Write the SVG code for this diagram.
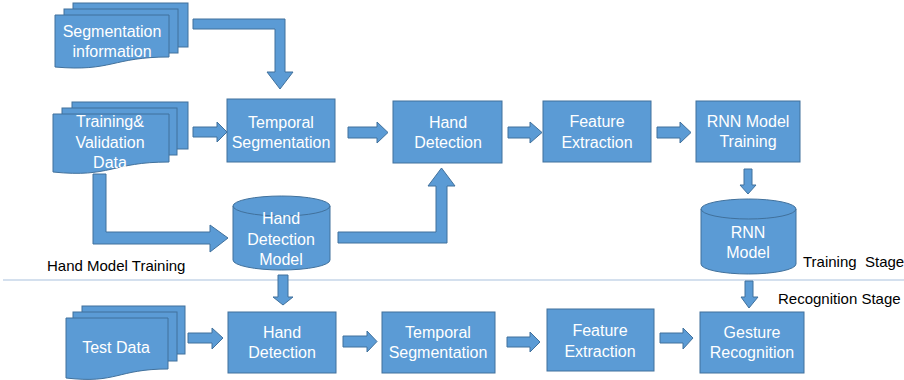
<svg xmlns="http://www.w3.org/2000/svg" width="904" height="380" viewBox="0 0 904 380">
<style>
.s{fill:#5b9bd5;stroke:#41719c;stroke-width:1}
.t{fill:#ffffff;font-family:"Liberation Sans",Arial,sans-serif;font-size:16px;text-anchor:middle}
.l{fill:#000000;font-family:"Liberation Sans",Arial,sans-serif;font-size:15px;white-space:pre}
.a{fill:#5b9bd5;stroke:#41719c;stroke-width:1}
</style>
<rect width="904" height="380" fill="#ffffff"/>
<line x1="3" y1="280" x2="904" y2="280" stroke="#a9c1dd" stroke-width="1"/>
<g id="connectors">
<polygon class="a" points="193,19 285,19 285,72 293,72 280,89 267,72 275,72 275,29 193,29"/>
<polygon class="a" points="193,127 217,127 217,122 227,132 217,142 217,137 193,137"/>
<polygon class="a" points="93,174 106,174 106,232 210,232 210,225 228,238 210,252 210,244 93,244"/>
<polygon class="a" points="338,232 436,232 436,186 428,186 441.5,168 455,186 447,186 447,243 338,243"/>
<polygon class="a" points="348,127 377,127 377,122 388,132.5 377,143 377,138 348,138"/>
<polygon class="a" points="508,127 530,127 530,122 542,132.5 530,143 530,138 508,138"/>
<polygon class="a" points="657,127 680,127 680,122 691,132.5 680,143 680,138 657,138"/>
<polygon class="a" points="744,169 752,169 752,185 756,185 748,194 740,185 744,185"/>
<polygon class="a" points="278,275 288,275 288,297 293,297 283,305 273,297 278,297"/>
<polygon class="a" points="745,281 753,281 753,297 758,297 749,308 741,297 745,297"/>
<polygon class="a" points="188,333 212,333 212,328 223,338 212,349 212,343 188,343"/>
<polygon class="a" points="343,336 367,336 367,331 377,341.5 367,352 367,347 343,347"/>
<polygon class="a" points="507,337 530,337 530,332 540,342 530,352 530,347 507,347"/>
<polygon class="a" points="660,333 683,333 683,328 693,338 683,349 683,343 660,343"/>
</g>
<g id="seg-info">
<rect class="s" x="73" y="3" width="115" height="44"/>
<rect class="s" x="64" y="9" width="114" height="44"/>
<path class="s" d="M55,15 H169 V57 C112,57 112,72 55,67 Z"/>
<text class="t" x="112" y="37">Segmentation</text>
<text class="t" x="112" y="57">information</text>
</g>
<g id="train-data">
<rect class="s" x="72" y="102" width="116" height="47"/>
<rect class="s" x="62" y="108" width="115" height="47"/>
<path class="s" d="M53,114 H169 V162 C111,162 111,178 53,172 Z"/>
<text class="t" x="110" y="127">Training&amp;</text>
<text class="t" x="110" y="148">Validation</text>
<text class="t" x="110" y="168">Data</text>
</g>
<g id="temporal-seg-1">
<rect class="s" x="227" y="99" width="108" height="63"/>
<text class="t" x="281" y="128">Temporal</text>
<text class="t" x="281" y="148">Segmentation</text>
</g>
<g id="hand-det-1">
<rect class="s" x="393" y="101" width="109" height="62"/>
<text class="t" x="448" y="128">Hand</text>
<text class="t" x="448" y="148">Detection</text>
</g>
<g id="feat-ext-1">
<rect class="s" x="543" y="101" width="108" height="61"/>
<text class="t" x="597" y="127">Feature</text>
<text class="t" x="597" y="148">Extraction</text>
</g>
<g id="rnn-train">
<rect class="s" x="696" y="101" width="104" height="61"/>
<text class="t" x="748" y="127">RNN Model</text>
<text class="t" x="748" y="147">Training</text>
</g>
<g id="hand-det-model">
<path class="s" d="M233,206 A48.5,10 0 0 1 330,206 V260 A48.5,10 0 0 1 233,260 Z"/>
<path d="M233,206 A48.5,10 0 0 0 330,206" fill="none" stroke="#41719c" stroke-width="1"/>
<text class="t" x="281" y="224">Hand</text>
<text class="t" x="281" y="245">Detection</text>
<text class="t" x="281" y="265">Model</text>
</g>
<g id="rnn-model">
<path class="s" d="M701,209 A47.5,10 0 0 1 796,209 V264 A47.5,10 0 0 1 701,264 Z"/>
<path d="M701,209 A47.5,10 0 0 0 796,209" fill="none" stroke="#41719c" stroke-width="1"/>
<text class="t" x="748" y="238">RNN</text>
<text class="t" x="748" y="258">Model</text>
</g>
<g id="test-data">
<rect class="s" x="82" y="306" width="103" height="48"/>
<rect class="s" x="73" y="312" width="104" height="49"/>
<path class="s" d="M66,318 H168 V369 C117,369 117,384 66,378 Z"/>
<text class="t" x="116" y="353">Test Data</text>
</g>
<g id="hand-det-2">
<rect class="s" x="228" y="312" width="108" height="61"/>
<text class="t" x="282" y="338">Hand</text>
<text class="t" x="282" y="358">Detection</text>
</g>
<g id="temporal-seg-2">
<rect class="s" x="382" y="312" width="113" height="61"/>
<text class="t" x="438" y="338">Temporal</text>
<text class="t" x="438" y="358">Segmentation</text>
</g>
<g id="feat-ext-2">
<rect class="s" x="547" y="309" width="107" height="62"/>
<text class="t" x="600" y="336">Feature</text>
<text class="t" x="600" y="357">Extraction</text>
</g>
<g id="gesture-rec">
<rect class="s" x="700" y="312" width="104" height="61"/>
<text class="t" x="752" y="338">Gesture</text>
<text class="t" x="752" y="358">Recognition</text>
</g>
<g id="labels">
<text class="l" x="47" y="271">Hand Model Training</text>
<text class="l" x="803" y="267">Training  Stage</text>
<text class="l" x="778" y="304">Recognition Stage</text>
</g>
</svg>
